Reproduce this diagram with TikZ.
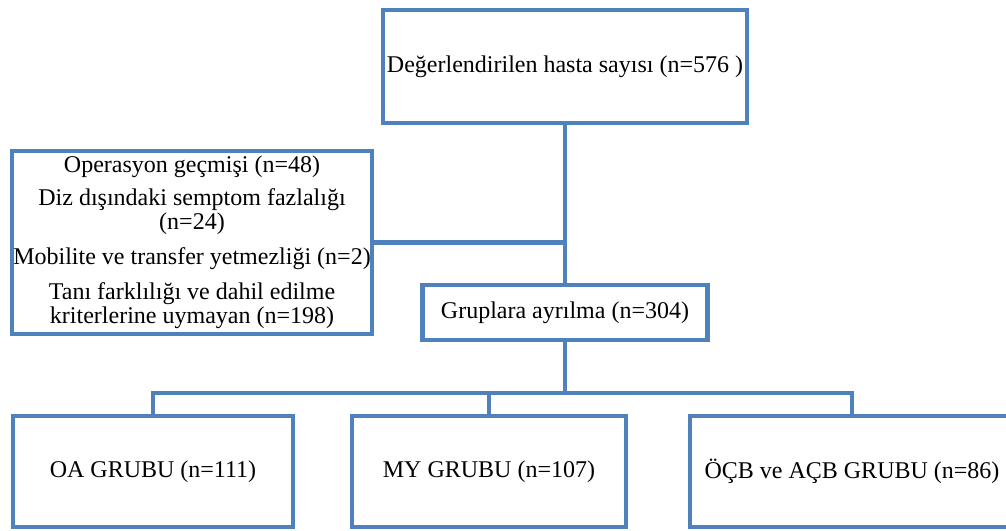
\documentclass[tikz,border=0pt]{standalone}
\usepackage{fontspec}
\setmainfont{Liberation Serif}
\definecolor{boxblue}{RGB}{79,129,189}
\begin{document}
\begin{tikzpicture}[x=1pt,y=-1pt,
  box/.style={draw=boxblue,line width=4.5pt,fill=white,rectangle,inner sep=0pt,align=center,font=\fontsize{24}{24}\selectfont},
  link/.style={draw=boxblue,line width=4.5pt}]
\clip (0,0) rectangle (1006,530);
\fill[white] (0,0) rectangle (1006,530);
\node[box,minimum width=364pt,minimum height=113pt] (top) at (565,66.5) {Değerlendirilen hasta sayısı (n=576 )};
\node[box,minimum width=360pt,minimum height=183pt,font=\fontsize{24}{23.5}\selectfont] (excl) at (192,242.5)
  {Operasyon geçmişi (n=48)\\[9.5pt]
   Diz dışındaki semptom fazlalığı\\ (n=24)\\[11.5pt]
   Mobilite ve transfer yetmezliği (n=2)\\[12pt]
   Tanı farklılığı ve dahil edilme\\ kriterlerine uymayan (n=198)};
\node[box,minimum width=285pt,minimum height=55pt] (groups) at (565,312.5) {Gruplara ayrılma (n=304)};
\node[box,minimum width=280pt,minimum height=111pt] (oa) at (153,471.5) {OA GRUBU (n=111)};
\node[box,minimum width=274pt,minimum height=111pt] (my) at (489,471.5) {MY GRUBU (n=107)};
\node[box,minimum width=324pt,minimum height=111pt] (ocb) at (852,471.5) {ÖÇB ve AÇB GRUBU (n=86)};
\coordinate (bus) at (565,393);
\draw[link] (top.south) -- (groups.north);
\draw[link] (excl.east) -- (excl.east -| top.south);
\draw[link] (groups.south) -- (bus);
\draw[link] (oa.north) |- (bus) -| (ocb.north);
\draw[link] (my.north) -- (my.north |- bus);
\end{tikzpicture}
\end{document}
